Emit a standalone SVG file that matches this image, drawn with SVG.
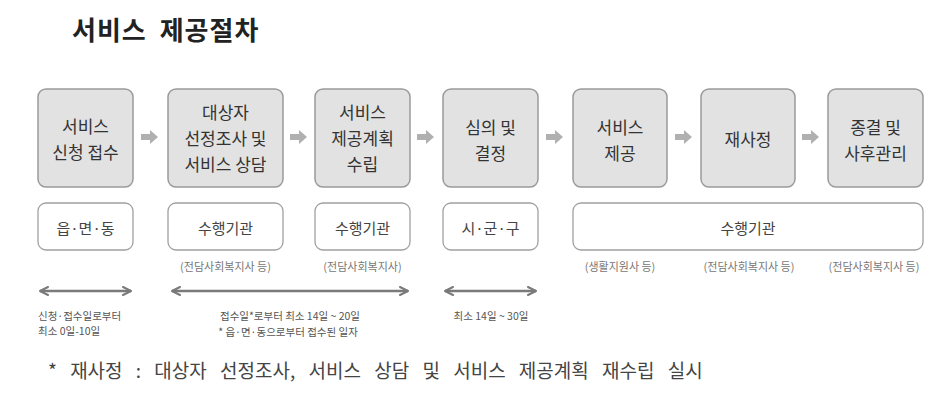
<svg xmlns="http://www.w3.org/2000/svg" width="949" height="415" viewBox="0 0 949 415">
<style>
text{font-family:"Noto Sans CJK KR","Noto Sans",sans-serif;}
.step rect{fill:#e2e2e2;stroke:#9a9a9a;stroke-width:1.5;}
.step text{font-size:17px;fill:#333;text-anchor:middle;dominant-baseline:central;}
.org rect{fill:#fff;stroke:#a0a0a0;stroke-width:1.3;}
.org text{font-size:15px;fill:#444;text-anchor:middle;dominant-baseline:central;}
.sub{font-size:11px;fill:#777;text-anchor:middle;dominant-baseline:central;}
.dur{font-size:10.5px;fill:#555;dominant-baseline:central;}
.flow{fill:#b0b0b0;}
.span{stroke:#7a7a7a;stroke-width:2.5;fill:none;marker-start:url(#h);marker-end:url(#h);}
</style>
<defs>
<marker id="h" viewBox="0 0 10 10" refX="9" refY="5" markerWidth="4" markerHeight="4" orient="auto-start-reverse" markerUnits="strokeWidth">
<path d="M1,1 L9,5 L1,9" fill="none" stroke="#7a7a7a" stroke-width="2" stroke-linecap="round" stroke-linejoin="round"/>
</marker>
</defs>
<rect width="949" height="415" fill="#fff"/>
<text x="72" y="40" font-size="26" font-weight="bold" fill="#222" letter-spacing="1" word-spacing="6">서비스 제공절차</text>

<g id="step1" class="step"><rect x="38" y="89" width="95" height="98" rx="8"/><text x="85.5" y="125">서비스</text><text x="85.5" y="151">신청 접수</text></g>
<g id="step2" class="step"><rect x="168" y="89" width="115" height="98" rx="8"/><text x="225.5" y="111">대상자</text><text x="225.5" y="137">선정조사 및</text><text x="225.5" y="163">서비스 상담</text></g>
<g id="step3" class="step"><rect x="315" y="89" width="95" height="98" rx="8"/><text x="362.5" y="111">서비스</text><text x="362.5" y="137">제공계획</text><text x="362.5" y="163">수립</text></g>
<g id="step4" class="step"><rect x="443" y="89" width="95" height="98" rx="8"/><text x="490.5" y="126">심의 및</text><text x="490.5" y="152">결정</text></g>
<g id="step5" class="step"><rect x="573" y="89" width="94" height="98" rx="8"/><text x="620" y="126">서비스</text><text x="620" y="152">제공</text></g>
<g id="step6" class="step"><rect x="701" y="89" width="94" height="98" rx="8"/><text x="748" y="138">재사정</text></g>
<g id="step7" class="step"><rect x="828" y="89" width="95" height="98" rx="8"/><text x="875.5" y="126">종결 및</text><text x="875.5" y="152">사후관리</text></g>

<g id="connectors">
<path class="flow" d="M141,134 H150 V130 L158,137 L150,144 V140 H141 Z"/>
<path class="flow" d="M290,134 H299 V130 L307,137 L299,144 V140 H290 Z"/>
<path class="flow" d="M417,134 H426 V130 L434,137 L426,144 V140 H417 Z"/>
<path class="flow" d="M546,134 H555 V130 L563,137 L555,144 V140 H546 Z"/>
<path class="flow" d="M675,134 H684 V130 L692,137 L684,144 V140 H675 Z"/>
<path class="flow" d="M802,134 H811 V130 L819,137 L811,144 V140 H802 Z"/>
<line class="span" x1="40" y1="291" x2="131" y2="291"/>
<line class="span" x1="172" y1="291" x2="408" y2="291"/>
<line class="span" x1="445" y1="291" x2="536" y2="291"/>
</g>

<g id="org1" class="org"><rect x="38" y="203" width="95" height="47" rx="8"/><text x="85.5" y="227">읍·면·동</text></g>
<g id="org2" class="org"><rect x="168" y="203" width="115" height="47" rx="8"/><text x="225.5" y="227">수행기관</text></g>
<g id="org3" class="org"><rect x="315" y="203" width="95" height="47" rx="8"/><text x="362.5" y="227">수행기관</text></g>
<g id="org4" class="org"><rect x="443" y="203" width="95" height="47" rx="8"/><text x="490.5" y="227">시·군·구</text></g>
<g id="org5" class="org"><rect x="573" y="203" width="350" height="47" rx="8"/><text x="748" y="227">수행기관</text></g>

<text class="sub" x="225.5" y="266">(전담사회복지사 등)</text>
<text class="sub" x="362.5" y="266">(전담사회복지사)</text>
<text class="sub" x="620" y="266">(생활지원사 등)</text>
<text class="sub" x="749" y="266">(전담사회복지사 등)</text>
<text class="sub" x="874" y="266">(전담사회복지사 등)</text>

<text class="dur" x="38" y="315">신청·접수일로부터</text>
<text class="dur" x="38" y="330">최소 0일-10일</text>
<text class="dur" x="290" y="315" text-anchor="middle">접수일*로부터 최소 14일 ~ 20일</text>
<text class="dur" x="288" y="331" text-anchor="middle" font-size="9.5">* 읍·면·동으로부터 접수된 일자</text>
<text class="dur" x="491" y="315" text-anchor="middle">최소 14일 ~ 30일</text>

<text x="48" y="378" font-size="19" fill="#444" word-spacing="9">* 재사정 : 대상자 선정조사, 서비스 상담 및 서비스 제공계획 재수립 실시</text>
</svg>
